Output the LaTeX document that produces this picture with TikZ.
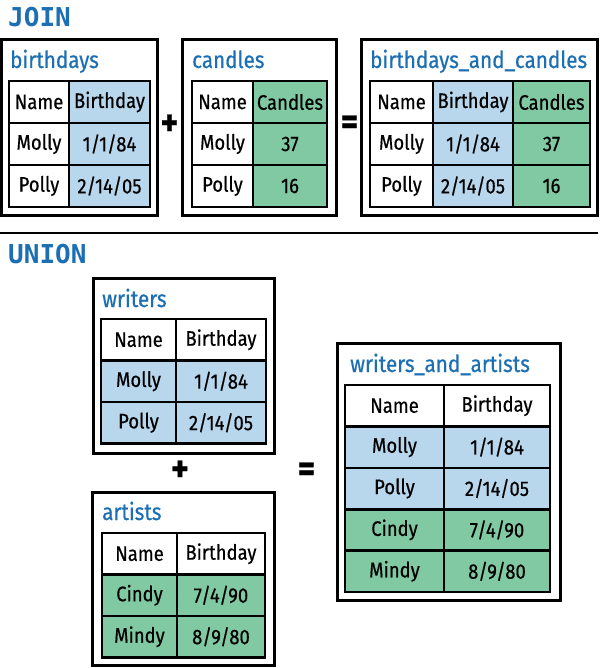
\documentclass[tikz,border=0pt]{standalone}
\usepackage{fontspec}
\setmainfont{Fira Sans}[FakeStretch=0.88, FakeBold=0.5]
\newfontfamily\sectfont{DejaVu Sans Mono}
\usepackage{xcolor}
\usetikzlibrary{calc}
\definecolor{tblue}{HTML}{1C6FB3}
\definecolor{cellblue}{HTML}{B8D6EC}
\definecolor{cellgreen}{HTML}{80C9A2}
\tikzset{
  cell/.style = {rectangle, draw=black, line width=2.6pt, inner sep=0pt,
    minimum height=42pt, font=\fontsize{21}{24}\selectfont},
  cell_w/.style = {cell, fill=white},% cellule blanche
  cell_b/.style = {cell, fill=cellblue},% cellule bleue
  cell_g/.style = {cell, fill=cellgreen},% cellule verte
  tbox/.style = {rectangle, draw=black, line width=3pt, inner sep=0pt,
    fill=white, minimum height=175pt},% cadre de table
  ttl/.style = {anchor=base west, inner sep=0pt, text=tblue,
    font=\fontsize{23.5}{28}\selectfont},% nom de table
  sect/.style = {anchor=base west, inner sep=0pt, text=tblue,
    font=\sectfont\bfseries\fontsize{26}{30}\selectfont},% titre de partie
  op/.style = {inner sep=0pt, font=\bfseries\fontsize{38}{40}\selectfont}
}
\begin{document}
\begin{tikzpicture}[x=1pt, y=-1pt]
\useasboundingbox (0,0) rectangle (600,668);

% JOIN
\node[sect] (join) at (8,27) {JOIN};

\node[tbox, minimum width=156pt] (bbox) at (79.5,127.5) {};
\node[ttl] (bttl) at (10,68) {birthdays};
\node[cell_w, minimum width=60pt] (b1) at (39,102) {Name};
\node[cell_b, minimum width=81pt] (b2) at (109.5,102) {Birthday};
\node[cell_w, minimum width=60pt] (b3) at (39,144) {Molly};
\node[cell_b, minimum width=81pt] (b4) at (109.5,144) {1/1/84};
\node[cell_w, minimum width=60pt] (b5) at (39,186) {Polly};
\node[cell_b, minimum width=81pt] (b6) at (109.5,186) {2/14/05};

\node[op] (plus1) at (169.5,125) {+};

\node[tbox, minimum width=154pt] (cbox) at (259,127.5) {};
\node[ttl] (cttl) at (192,68) {candles};
\node[cell_w, minimum width=61pt] (c1) at (222.5,102) {Name};
\node[cell_g, minimum width=74pt] (c2) at (290,102) {Candles};
\node[cell_w, minimum width=61pt] (c3) at (222.5,144) {Molly};
\node[cell_g, minimum width=74pt] (c4) at (290,144) {37};
\node[cell_w, minimum width=61pt] (c5) at (222.5,186) {Polly};
\node[cell_g, minimum width=74pt] (c6) at (290,186) {16};

\node[op] (eq1) at (349.5,125) {=};

\node[tbox, minimum width=236pt] (bcbox) at (479.5,127.5) {};
\node[ttl] (bcttl) at (370,68) {birthdays\_and\_candles};
\node[cell_w, minimum width=63pt] (bc1) at (401.5,102) {Name};
\node[cell_b, minimum width=80pt] (bc2) at (473,102) {Birthday};
\node[cell_g, minimum width=77pt] (bc3) at (551.5,102) {Candles};
\node[cell_w, minimum width=63pt] (bc4) at (401.5,144) {Molly};
\node[cell_b, minimum width=80pt] (bc5) at (473,144) {1/1/84};
\node[cell_g, minimum width=77pt] (bc6) at (551.5,144) {37};
\node[cell_w, minimum width=63pt] (bc7) at (401.5,186) {Polly};
\node[cell_b, minimum width=80pt] (bc8) at (473,186) {2/14/05};
\node[cell_g, minimum width=77pt] (bc9) at (551.5,186) {16};

\draw[line width=2pt] (0,233) -- (598,233);

% UNION
\node[sect] (union) at (8,263) {UNION};

\node[tbox, minimum width=181pt] (wbox) at (184,365.5) {};
\node[ttl] (wttl) at (102,307) {writers};
\node[cell_w, minimum width=75pt, minimum height=41.5pt] (w1) at (138.5,339.75) {Name};
\node[cell_w, minimum width=90pt, minimum height=41.5pt] (w2) at (221,339.75) {Birthday};
\node[cell_b, minimum width=75pt, minimum height=41.5pt] (w3) at (138.5,381.25) {Molly};
\node[cell_b, minimum width=90pt, minimum height=41.5pt] (w4) at (221,381.25) {1/1/84};
\node[cell_b, minimum width=75pt, minimum height=41.5pt] (w5) at (138.5,422.75) {Polly};
\node[cell_b, minimum width=90pt, minimum height=41.5pt] (w6) at (221,422.75) {2/14/05};

\node[op] (plus2) at (180,471) {+};

\node[tbox, minimum width=182pt, minimum height=173pt] (abox) at (183.5,579) {};
\node[ttl] (attl) at (102,520) {artists};
\node[cell_w, minimum width=75pt, minimum height=41.5pt] (a1) at (139.5,553.75) {Name};
\node[cell_w, minimum width=88pt, minimum height=41.5pt] (a2) at (221,553.75) {Birthday};
\node[cell_g, minimum width=75pt, minimum height=41.5pt] (a3) at (139.5,595.25) {Cindy};
\node[cell_g, minimum width=88pt, minimum height=41.5pt] (a4) at (221,595.25) {7/4/90};
\node[cell_g, minimum width=75pt, minimum height=41.5pt] (a5) at (139.5,636.75) {Mindy};
\node[cell_g, minimum width=88pt, minimum height=41.5pt] (a6) at (221,636.75) {8/9/80};

\node[op] (eq2) at (306.5,472) {=};

\node[tbox, minimum width=223pt, minimum height=257pt] (wabox) at (449,472) {};
\node[ttl] (wattl) at (350,372) {writers\_and\_artists};
\node[cell_w, minimum width=99pt, minimum height=41.4pt] (wa1) at (394.5,405.7) {Name};
\node[cell_w, minimum width=106pt, minimum height=41.4pt] (wa2) at (497,405.7) {Birthday};
\node[cell_b, minimum width=99pt, minimum height=41.4pt] (wa3) at (394.5,447.1) {Molly};
\node[cell_b, minimum width=106pt, minimum height=41.4pt] (wa4) at (497,447.1) {1/1/84};
\node[cell_b, minimum width=99pt, minimum height=41.4pt] (wa5) at (394.5,488.5) {Polly};
\node[cell_b, minimum width=106pt, minimum height=41.4pt] (wa6) at (497,488.5) {2/14/05};
\node[cell_g, minimum width=99pt, minimum height=41.4pt] (wa7) at (394.5,529.9) {Cindy};
\node[cell_g, minimum width=106pt, minimum height=41.4pt] (wa8) at (497,529.9) {7/4/90};
\node[cell_g, minimum width=99pt, minimum height=41.4pt] (wa9) at (394.5,571.3) {Mindy};
\node[cell_g, minimum width=106pt, minimum height=41.4pt] (wa10) at (497,571.3) {8/9/80};
\end{tikzpicture}
\end{document}
